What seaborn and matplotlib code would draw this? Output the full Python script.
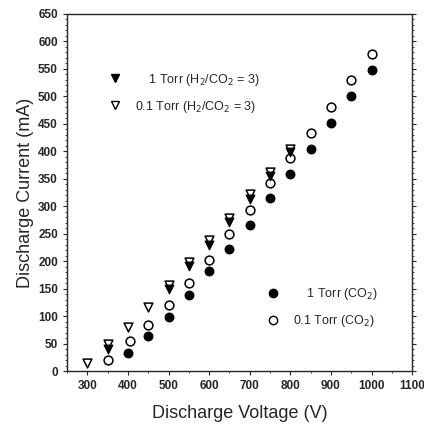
import numpy as np
import pandas as pd
import matplotlib
matplotlib.use('Agg')
import matplotlib.pyplot as plt
import seaborn as sns
from matplotlib.lines import Line2D
from matplotlib.ticker import MultipleLocator

# values
v_co2_1 = [400, 450, 500, 550, 600, 650, 700, 750, 800, 850, 900, 950, 1000]
i_co2_1 = [32, 64, 98, 139, 183, 222, 266, 315, 359, 404, 452, 501, 548]

v_co2_01 = [350, 405, 450, 500, 550, 600, 650, 700, 750, 800, 850, 900, 950, 1000]
i_co2_01 = [20, 55, 83, 120, 160, 202, 250, 294, 342, 388, 434, 481, 530, 577]

v_mix_1 = [350, 500, 550, 600, 650, 700, 750, 800]
i_mix_1 = [40, 150, 192, 229, 271, 314, 355, 398]

v_mix_01 = [300, 350, 400, 450, 500, 550, 600, 650, 700, 750, 800]
i_mix_01 = [14, 50, 80, 117, 157, 199, 238, 279, 322, 362, 405]

labels = ['1 Torr (H$_2$/CO$_2$ = 3)', '0.1 Torr (H$_2$/CO$_2$ = 3)',
          '1 Torr (CO$_2$)', '0.1 Torr (CO$_2$)']

sns.set_style('ticks')
plt.rcParams['font.family'] = ['Liberation Sans', 'DejaVu Sans']

fig = plt.figure(figsize=(4.24, 4.34), dpi=100)
ax = fig.add_axes([0.158, 0.145, 0.814, 0.823])

# open symbols drawn first, filled ones on top
sns.scatterplot(x=v_mix_01, y=i_mix_01, marker='v', s=40, facecolor='white',
                edgecolor='black', linewidth=1.1, ax=ax, legend=False, zorder=3)
sns.scatterplot(x=v_mix_1, y=i_mix_1, marker='v', s=40, color='black',
                edgecolor='black', linewidth=0.8, ax=ax, legend=False, zorder=4)
sns.scatterplot(x=v_co2_01, y=i_co2_01, marker='o', s=40, facecolor='white',
                edgecolor='black', linewidth=1.1, ax=ax, legend=False, zorder=3)
sns.scatterplot(x=v_co2_1, y=i_co2_1, marker='o', s=40, color='black',
                edgecolor='black', linewidth=0.8, ax=ax, legend=False, zorder=4)

ax.set_xlim(250, 1100)
ax.set_ylim(0, 650)
ax.xaxis.set_minor_locator(MultipleLocator(50))
ax.yaxis.set_major_locator(MultipleLocator(50))
ax.yaxis.set_minor_locator(MultipleLocator(10))
ax.set_xticks(range(300, 1101, 100))
ax.tick_params(which='major', length=3, width=0.8, labelsize=8.5, direction='out',
               right=True, top=False)
ax.tick_params(which='minor', length=1.5, width=0.6, right=True)
for lab in ax.get_xticklabels() + ax.get_yticklabels():
    lab.set_fontweight('bold')
for sp in ax.spines.values():
    sp.set_linewidth(1.0)
    sp.set_visible(True)

ax.set_xlabel('Discharge Voltage (V)', fontsize=13, labelpad=9)
ax.set_ylabel('Discharge Current (mA)', fontsize=13, labelpad=3)

# legends
h_mix = [Line2D([], [], ls='none', marker='v', ms=6, mfc='black', mec='black'),
         Line2D([], [], ls='none', marker='v', ms=6, mfc='white', mec='black')]
leg1 = ax.legend(h_mix, ['    ' + labels[0], labels[1]], loc='upper left',
                 bbox_to_anchor=(0.07, 0.87), frameon=False, fontsize=9,
                 handletextpad=0.6, labelspacing=0.9)
ax.add_artist(leg1)
h_co2 = [Line2D([], [], ls='none', marker='o', ms=6, mfc='black', mec='black'),
         Line2D([], [], ls='none', marker='o', ms=6, mfc='white', mec='black')]
ax.legend(h_co2, ['    ' + labels[2], labels[3]], loc='upper left',
          bbox_to_anchor=(0.527, 0.27), frameon=False, fontsize=9,
          handletextpad=0.6, labelspacing=0.9)

fig.savefig('out.png', dpi=100)
